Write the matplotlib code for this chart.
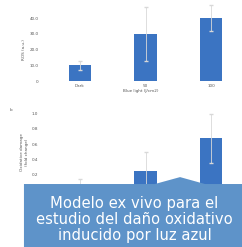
import matplotlib
matplotlib.use("Agg")
import matplotlib.pyplot as plt
from matplotlib.patches import Polygon

# data
groups = ["Dark", "50", "100"]
ros_vals = [10, 30, 40]
ros_err = [3, 17, 8]
dmg_vals = [0.05, 0.25, 0.68]
dmg_err = [0.1, 0.25, 0.32]
caption = "Modelo ex vivo para el\nestudio del daño oxidativo\ninducido por luz azul"

bar_color = "#3b74c2"
box_color = "#5e93c9"

fig = plt.figure(figsize=(2.42, 2.47), dpi=100)

ax1 = fig.add_axes([0.17, 0.672, 0.82, 0.255])
ax1.bar(groups, ros_vals, width=0.34, color=bar_color,
        yerr=ros_err, error_kw=dict(ecolor="#d8d8d8", lw=0.6, capsize=1.2))
ax1.set_ylim(0, 40)
ax1.set_yticks([0, 10, 20, 30, 40])
ax1.set_yticklabels(["0", "10.0", "20.0", "30.0", "40.0"])
ax1.set_ylabel("ROS (a.u.)", fontsize=3, color="#555555", labelpad=2)
ax1.set_xlabel("Blue light (J/cm2)", fontsize=3, color="#555555", labelpad=1)

ax2 = fig.add_axes([0.17, 0.23, 0.82, 0.31])
ax2.bar(groups, dmg_vals, width=0.34, color=bar_color,
        yerr=dmg_err, error_kw=dict(ecolor="#d8d8d8", lw=0.6, capsize=1.2))
ax2.set_ylim(0, 1.0)
ax2.set_yticks([0.2, 0.4, 0.6, 0.8, 1.0])
ax2.set_xticks([])
ax2.set_ylabel("Oxidative damage\n(fold change)", fontsize=3, color="#555555", labelpad=2)

for ax in (ax1, ax2):
    for s in ax.spines.values():
        s.set_visible(False)
    ax.tick_params(length=0, labelsize=3, colors="#555555", pad=2)
    ax.set_xlim(-0.59, 2.43)
    for art in ax.containers:
        pass
    for ln in ax.lines + list(ax.collections):
        ln.set_clip_on(False)

fig.text(0.04, 0.55, "b", fontsize=3, color="#555555")

# caption box with pointer
box = Polygon([(0.099, 0.0), (1.0, 0.0), (1.0, 0.255), (0.847, 0.255),
               (0.744, 0.283), (0.64, 0.255), (0.099, 0.255)],
              closed=True, transform=fig.transFigure, facecolor=box_color,
              edgecolor="none", zorder=10)
fig.patches.append(box)
fig.text(0.556, 0.112, caption, ha="center", va="center", color="white",
         fontsize=10.6, linespacing=1.1, zorder=11)

fig.savefig("out.png", dpi=100)
